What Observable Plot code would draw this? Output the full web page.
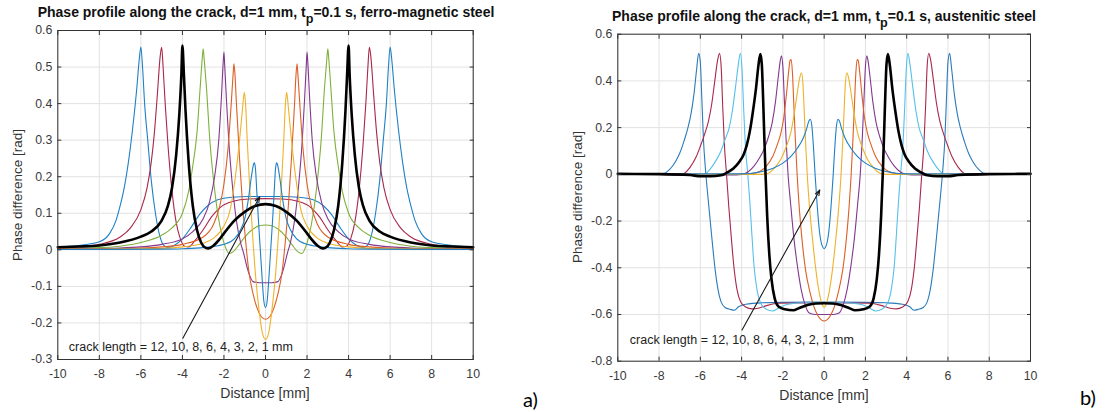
<!DOCTYPE html>
<html>
<head>
<meta charset="utf-8">
<script src="https://cdn.jsdelivr.net/npm/d3@7"></script>
<script src="https://cdn.jsdelivr.net/npm/@observablehq/plot@0.6"></script>
<style>
  body { margin: 0; background: #fff; }
  #wrap { position: relative; width: 1109px; height: 412px; font-family: "Liberation Sans", Arial, sans-serif; overflow: hidden; }
  #wrap svg { position: absolute; top: 0; }
  .title { position: absolute; font-weight: bold; font-size: 14px; line-height: 14px; color: #111; white-space: nowrap; transform: translateX(-50%); }
  .title sub { font-size: 0.9em; vertical-align: -0.45em; line-height: 0; }
  .xlab { position: absolute; font-size: 14px; line-height: 14px; color: #333; white-space: nowrap; transform: translateX(-50%); }
  .ylab { position: absolute; font-size: 13.5px; line-height: 14px; color: #333; white-space: nowrap; transform: translate(-50%, -50%) rotate(-90deg); }
  .tag { position: absolute; font-family: Lato, "Open Sans", sans-serif; font-size: 20px; line-height: 20px; color: #000; }
</style>
</head>
<body>
<div id="wrap">
  <div class="title" style="left:266px; top:5px;">Phase profile along the crack, d=1 mm, t<sub>p</sub>=0.1 s, ferro-magnetic steel</div>
  <div class="title" style="left:824px; top:8.5px;">Phase profile along the crack, d=1 mm, t<sub>p</sub>=0.1 s, austenitic steel</div>
  <div class="xlab" style="left:265px; top:386px;">Distance [mm]</div>
  <div class="xlab" style="left:824px; top:388px;">Distance [mm]</div>
  <div class="ylab" style="left:18px; top:195px;">Phase difference [rad]</div>
  <div class="ylab" style="left:577.5px; top:197px;">Phase difference [rad]</div>
  <div class="tag" style="left:523px; top:389px;">a)</div>
  <div class="tag" style="left:1080px; top:387px;">b)</div>
</div>
<script>
// ---------- shared axis ticks ----------
const xTicks = [-10, -8, -6, -4, -2, 0, 2, 4, 6, 8, 10];
const xLabels = ["-10", "-8", "-6", "-4", "-2", "0", "2", "4", "6", "8", "10"];
const yTicksA = [-0.3, -0.2, -0.1, 0, 0.1, 0.2, 0.3, 0.4, 0.5, 0.6];
const yLabelsA = ["-0.3", "-0.2", "-0.1", "0", "0.1", "0.2", "0.3", "0.4", "0.5", "0.6"];
const yTicksB = [-0.8, -0.6, -0.4, -0.2, 0, 0.2, 0.4, 0.6];
const yLabelsB = ["-0.8", "-0.6", "-0.4", "-0.2", "0", "0.2", "0.4", "0.6"];
const crackLengths = [12, 10, 8, 6, 4, 3, 2, 1];
const noteText = "crack length = 12, 10, 8, 6, 4, 3, 2, 1 mm";

// ---------- panel a) ferro-magnetic steel: [distance mm, phase rad] ----------
const a12 = [[-10,0.008],[-9,0.012],[-8,0.022],[-7.5,0.045],[-7.2,0.08],[-7,0.12],[-6.8,0.17],[-6.6,0.24],[-6.4,0.33],[-6.2,0.44],[-6.08,0.52],[-6,0.555],[-5.92,0.5],[-5.82,0.4],[-5.67,0.3],[-5.5,0.19],[-5.3,0.1],[-5.1,0.04],[-4.9,0.012],[-4.7,0.006],[-4.4,0.012],[-4,0.03],[-3.6,0.06],[-3.2,0.095],[-2.8,0.12],[-2.3,0.137],[-1.6,0.144],[-0.8,0.146],[0,0.146],
  [0.8,0.146],[1.6,0.144],[2.3,0.137],[2.8,0.12],[3.2,0.095],[3.6,0.06],[4,0.03],[4.4,0.012],[4.7,0.006],[4.9,0.012],[5.1,0.04],[5.3,0.1],[5.5,0.19],[5.67,0.3],[5.82,0.4],[5.92,0.5],[6,0.555],[6.08,0.52],[6.2,0.44],[6.4,0.33],[6.6,0.24],[6.8,0.17],[7,0.12],[7.2,0.08],[7.5,0.045],[8,0.022],[9,0.012],[10,0.008]];
const a10 = [[-10,0.005],[-9,0.008],[-8,0.015],[-7,0.035],[-6.5,0.06],[-6,0.11],[-5.7,0.17],[-5.5,0.24],[-5.35,0.32],[-5.2,0.43],[-5.07,0.53],[-5,0.554],[-4.93,0.5],[-4.83,0.4],[-4.7,0.29],[-4.5,0.16],[-4.3,0.075],[-4.1,0.03],[-3.9,0.01],[-3.7,0.008],[-3.4,0.025],[-3,0.055],[-2.6,0.09],[-2.2,0.115],[-1.6,0.132],[-0.8,0.139],[0,0.14],
  [0.8,0.139],[1.6,0.132],[2.2,0.115],[2.6,0.09],[3,0.055],[3.4,0.025],[3.7,0.008],[3.9,0.01],[4.1,0.03],[4.3,0.075],[4.5,0.16],[4.7,0.29],[4.83,0.4],[4.93,0.5],[5,0.554],[5.07,0.53],[5.2,0.43],[5.35,0.32],[5.5,0.24],[5.7,0.17],[6,0.11],[6.5,0.06],[7,0.035],[8,0.015],[9,0.008],[10,0.005]];
const a8 = [[-10,0.007],[-9,0.009],[-8,0.012],[-7,0.02],[-6,0.036],[-5.5,0.05],[-5,0.08],[-4.7,0.12],[-4.5,0.17],[-4.3,0.26],[-4.15,0.37],[-4.05,0.48],[-4,0.559],[-3.93,0.48],[-3.85,0.38],[-3.7,0.24],[-3.5,0.12],[-3.3,0.055],[-3.1,0.02],[-2.9,0.006],[-2.75,0.004],[-2.5,0.012],[-2.2,0.03],[-2,0.045],[-1.5,0.08],[-1,0.104],[-0.5,0.12],[0,0.125],
  [0.5,0.12],[1,0.104],[1.5,0.08],[2,0.045],[2.2,0.03],[2.5,0.012],[2.75,0.004],[2.9,0.006],[3.1,0.02],[3.3,0.055],[3.5,0.12],[3.7,0.24],[3.85,0.38],[3.93,0.48],[4,0.559],[4.05,0.48],[4.15,0.37],[4.3,0.26],[4.5,0.17],[4.7,0.12],[5,0.08],[5.5,0.05],[6,0.036],[7,0.02],[8,0.012],[9,0.009],[10,0.007]];
const a6 = [[-10,0.003],[-8,0.006],[-7,0.01],[-6,0.02],[-5,0.04],[-4.5,0.06],[-4,0.1],[-3.7,0.16],[-3.5,0.23],[-3.3,0.32],[-3.15,0.44],[-3.05,0.52],[-3,0.55],[-2.95,0.52],[-2.85,0.45],[-2.68,0.3],[-2.5,0.19],[-2.3,0.1],[-2.1,0.04],[-1.9,0.003],[-1.75,-0.01],[-1.55,-0.005],[-1.3,0.012],[-1,0.035],[-0.6,0.057],[-0.3,0.066],[0,0.068],
  [0.3,0.066],[0.6,0.057],[1,0.035],[1.3,0.012],[1.55,-0.005],[1.75,-0.01],[1.9,0.003],[2.1,0.04],[2.3,0.1],[2.5,0.19],[2.68,0.3],[2.85,0.45],[2.95,0.52],[3,0.55],[3.05,0.52],[3.15,0.44],[3.3,0.32],[3.5,0.23],[3.7,0.16],[4,0.1],[4.5,0.06],[5,0.04],[6,0.02],[7,0.01],[8,0.006],[10,0.003]];
const a4 = [[-10,0.002],[-7,0.005],[-6,0.008],[-5,0.015],[-4,0.03],[-3.5,0.05],[-3,0.085],[-2.7,0.13],[-2.45,0.2],[-2.25,0.3],[-2.12,0.42],[-2.04,0.51],[-2,0.541],[-1.96,0.5],[-1.88,0.41],[-1.77,0.3],[-1.6,0.18],[-1.4,0.08],[-1.2,0.02],[-1.05,-0.01],[-0.9,-0.045],[-0.75,-0.072],[-0.6,-0.087],[-0.3,-0.09],[0,-0.09],
  [0.3,-0.09],[0.6,-0.087],[0.75,-0.072],[0.9,-0.045],[1.05,-0.01],[1.2,0.02],[1.4,0.08],[1.6,0.18],[1.77,0.3],[1.88,0.41],[1.96,0.5],[2,0.541],[2.04,0.51],[2.12,0.42],[2.25,0.3],[2.45,0.2],[2.7,0.13],[3,0.085],[3.5,0.05],[4,0.03],[5,0.015],[6,0.008],[7,0.005],[10,0.002]];
const a3 = [[-10,0.002],[-6,0.005],[-5,0.008],[-4,0.015],[-3,0.035],[-2.5,0.07],[-2.2,0.12],[-2,0.18],[-1.8,0.28],[-1.65,0.4],[-1.56,0.48],[-1.52,0.509],[-1.47,0.48],[-1.4,0.4],[-1.25,0.25],[-1.1,0.12],[-0.95,0.02],[-0.8,-0.06],[-0.6,-0.12],[-0.4,-0.16],[-0.2,-0.183],[0,-0.19],
  [0.2,-0.183],[0.4,-0.16],[0.6,-0.12],[0.8,-0.06],[0.95,0.02],[1.1,0.12],[1.25,0.25],[1.4,0.4],[1.47,0.48],[1.52,0.509],[1.56,0.48],[1.65,0.4],[1.8,0.28],[2,0.18],[2.2,0.12],[2.5,0.07],[3,0.035],[4,0.015],[5,0.008],[6,0.005],[10,0.002]];
const a2 = [[-10,0.001],[-5,0.004],[-4,0.008],[-3,0.018],[-2.5,0.032],[-2,0.065],[-1.7,0.11],[-1.45,0.2],[-1.25,0.3],[-1.1,0.39],[-1.02,0.431],[-0.96,0.4],[-0.88,0.3],[-0.76,0.17],[-0.62,0.04],[-0.48,-0.07],[-0.32,-0.16],[-0.16,-0.225],[0,-0.245],
  [0.16,-0.225],[0.32,-0.16],[0.48,-0.07],[0.62,0.04],[0.76,0.17],[0.88,0.3],[0.96,0.4],[1.02,0.431],[1.1,0.39],[1.25,0.3],[1.45,0.2],[1.7,0.11],[2,0.065],[2.5,0.032],[3,0.018],[4,0.008],[5,0.004],[10,0.001]];
const a1 = [[-10,0.001],[-5,0.002],[-4,0.003],[-3,0.006],[-2,0.015],[-1.5,0.03],[-1.2,0.055],[-1,0.085],[-0.82,0.14],[-0.68,0.2],[-0.57,0.235],[-0.53,0.238],[-0.48,0.22],[-0.42,0.16],[-0.34,0.08],[-0.25,0],[-0.16,-0.08],[-0.08,-0.14],[0,-0.158],
  [0.08,-0.14],[0.16,-0.08],[0.25,0],[0.34,0.08],[0.42,0.16],[0.48,0.22],[0.53,0.238],[0.57,0.235],[0.68,0.2],[0.82,0.14],[1,0.085],[1.2,0.055],[1.5,0.03],[2,0.015],[3,0.006],[4,0.003],[5,0.002],[10,0.001]];

// ---------- panel b) austenitic steel ----------
const b12 = [[-10,0.003],[-9,0.003],[-8,0.002],[-7.75,0.004],[-7.5,0.02],[-7.2,0.055],[-7,0.09],[-6.8,0.14],[-6.6,0.2],[-6.45,0.26],[-6.3,0.35],[-6.18,0.45],[-6.08,0.518],[-6,0.48],[-5.93,0.33],[-5.85,0.15],[-5.75,0.02],[-5.65,-0.08],[-5.52,-0.2],[-5.4,-0.31],[-5.28,-0.41],[-5.15,-0.49],[-5,-0.545],[-4.8,-0.57],[-4.55,-0.578],[-4.35,-0.582],[-4.15,-0.567],[-3.8,-0.556],[-3,-0.55],[-2,-0.548],[0,-0.547],
  [2,-0.548],[3,-0.55],[3.8,-0.556],[4.15,-0.567],[4.35,-0.582],[4.55,-0.578],[4.8,-0.57],[5,-0.545],[5.15,-0.49],[5.28,-0.41],[5.4,-0.31],[5.52,-0.2],[5.65,-0.08],[5.75,0.02],[5.85,0.15],[5.93,0.33],[6,0.48],[6.08,0.518],[6.18,0.45],[6.3,0.35],[6.45,0.26],[6.6,0.2],[6.8,0.14],[7,0.09],[7.2,0.055],[7.5,0.02],[7.75,0.004],[8,0.002],[9,0.003],[10,0.003]];
const b10 = [[-10,0.001],[-8,0],[-7,-0.003],[-6.8,0.003],[-6.5,0.03],[-6.2,0.075],[-6,0.12],[-5.8,0.17],[-5.6,0.23],[-5.45,0.3],[-5.3,0.4],[-5.16,0.49],[-5.07,0.518],[-4.99,0.46],[-4.92,0.3],[-4.83,0.12],[-4.73,0],[-4.62,-0.14],[-4.5,-0.27],[-4.38,-0.39],[-4.23,-0.49],[-4.05,-0.545],[-3.8,-0.568],[-3.5,-0.576],[-3.2,-0.573],[-2.8,-0.562],[-2.2,-0.552],[0,-0.55],
  [2.2,-0.552],[2.8,-0.562],[3.2,-0.573],[3.5,-0.576],[3.8,-0.568],[4.05,-0.545],[4.23,-0.49],[4.38,-0.39],[4.5,-0.27],[4.62,-0.14],[4.73,0],[4.83,0.12],[4.92,0.3],[4.99,0.46],[5.07,0.518],[5.16,0.49],[5.3,0.4],[5.45,0.3],[5.6,0.23],[5.8,0.17],[6,0.12],[6.2,0.075],[6.5,0.03],[6.8,0.003],[7,-0.003],[8,0],[10,0.001]];
const b8 = [[-10,0.002],[-7,0],[-6.2,-0.005],[-5.8,0],[-5.6,0.015],[-5.3,0.05],[-5,0.1],[-4.8,0.15],[-4.6,0.2],[-4.45,0.27],[-4.3,0.37],[-4.16,0.47],[-4.06,0.518],[-3.98,0.45],[-3.9,0.28],[-3.8,0.1],[-3.7,0],[-3.6,-0.12],[-3.5,-0.26],[-3.4,-0.39],[-3.26,-0.49],[-3.08,-0.55],[-2.8,-0.578],[-2.5,-0.585],[-2.2,-0.572],[-1.8,-0.557],[-1,-0.55],[0,-0.549],
  [1,-0.55],[1.8,-0.557],[2.2,-0.572],[2.5,-0.585],[2.8,-0.578],[3.08,-0.55],[3.26,-0.49],[3.4,-0.39],[3.5,-0.26],[3.6,-0.12],[3.7,0],[3.8,0.1],[3.9,0.28],[3.98,0.45],[4.06,0.518],[4.16,0.47],[4.3,0.37],[4.45,0.27],[4.6,0.2],[4.8,0.15],[5,0.1],[5.3,0.05],[5.6,0.015],[5.8,0],[6.2,-0.005],[7,0],[10,0.002]];
const b6 = [[-10,0.002],[-8,0.001],[-6.5,-0.003],[-6,-0.008],[-5.5,-0.008],[-5,-0.004],[-4.7,0.008],[-4.4,0.025],[-4.1,0.055],[-3.9,0.085],[-3.75,0.125],[-3.6,0.185],[-3.45,0.27],[-3.3,0.37],[-3.18,0.47],[-3.09,0.515],[-3.02,0.47],[-2.96,0.33],[-2.9,0.16],[-2.84,0],[-2.76,-0.18],[-2.66,-0.34],[-2.55,-0.45],[-2.4,-0.53],[-2.2,-0.567],[-1.9,-0.578],[-1.5,-0.582],[-1.2,-0.572],[-0.8,-0.559],[-0.4,-0.553],[0,-0.552],
  [0.4,-0.553],[0.8,-0.559],[1.2,-0.572],[1.5,-0.582],[1.9,-0.578],[2.2,-0.567],[2.4,-0.53],[2.55,-0.45],[2.66,-0.34],[2.76,-0.18],[2.84,0],[2.9,0.16],[2.96,0.33],[3.02,0.47],[3.09,0.515],[3.18,0.47],[3.3,0.37],[3.45,0.27],[3.6,0.185],[3.75,0.125],[3.9,0.085],[4.1,0.055],[4.4,0.025],[4.7,0.008],[5,-0.004],[5.5,-0.008],[6,-0.008],[6.5,-0.003],[8,0.001],[10,0.002]];
const b4 = [[-10,0.001],[-6,0],[-4.5,-0.003],[-4,0],[-3.7,0.01],[-3.4,0.035],[-3.1,0.075],[-2.9,0.11],[-2.7,0.16],[-2.52,0.22],[-2.36,0.31],[-2.22,0.42],[-2.12,0.49],[-2.07,0.507],[-2,0.46],[-1.92,0.3],[-1.84,0.14],[-1.75,0],[-1.62,-0.13],[-1.47,-0.27],[-1.3,-0.39],[-1.12,-0.49],[-0.92,-0.56],[-0.72,-0.594],[-0.45,-0.6],[0,-0.6],
  [0.45,-0.6],[0.72,-0.594],[0.92,-0.56],[1.12,-0.49],[1.3,-0.39],[1.47,-0.27],[1.62,-0.13],[1.75,0],[1.84,0.14],[1.92,0.3],[2,0.46],[2.07,0.507],[2.12,0.49],[2.22,0.42],[2.36,0.31],[2.52,0.22],[2.7,0.16],[2.9,0.11],[3.1,0.075],[3.4,0.035],[3.7,0.01],[4,0],[4.5,-0.003],[6,0],[10,0.001]];
const b3 = [[-10,0.001],[-4,0],[-3.5,0.003],[-3.1,0.013],[-2.8,0.035],[-2.5,0.075],[-2.3,0.12],[-2.1,0.175],[-1.96,0.24],[-1.83,0.34],[-1.72,0.44],[-1.65,0.488],[-1.6,0.492],[-1.54,0.44],[-1.47,0.3],[-1.39,0.14],[-1.31,0],[-1.2,-0.15],[-1.05,-0.3],[-0.9,-0.41],[-0.7,-0.5],[-0.5,-0.565],[-0.3,-0.605],[-0.12,-0.624],[0,-0.628],
  [0.12,-0.624],[0.3,-0.605],[0.5,-0.565],[0.7,-0.5],[0.9,-0.41],[1.05,-0.3],[1.2,-0.15],[1.31,0],[1.39,0.14],[1.47,0.3],[1.54,0.44],[1.6,0.492],[1.65,0.488],[1.72,0.44],[1.83,0.34],[1.96,0.24],[2.1,0.175],[2.3,0.12],[2.5,0.075],[2.8,0.035],[3.1,0.013],[3.5,0.003],[4,0],[10,0.001]];
const b2 = [[-10,0.001],[-3,0],[-2.7,0.005],[-2.4,0.028],[-2.1,0.065],[-1.85,0.115],[-1.6,0.185],[-1.45,0.26],[-1.3,0.35],[-1.18,0.415],[-1.1,0.435],[-1.03,0.39],[-0.96,0.26],[-0.89,0.12],[-0.82,0],[-0.7,-0.15],[-0.55,-0.29],[-0.4,-0.41],[-0.25,-0.5],[-0.1,-0.556],[0,-0.57],
  [0.1,-0.556],[0.25,-0.5],[0.4,-0.41],[0.55,-0.29],[0.7,-0.15],[0.82,0],[0.89,0.12],[0.96,0.26],[1.03,0.39],[1.1,0.435],[1.18,0.415],[1.3,0.35],[1.45,0.26],[1.6,0.185],[1.85,0.115],[2.1,0.065],[2.4,0.028],[2.7,0.005],[3,0],[10,0.001]];
const b1 = [[-10,0.001],[-4,0.002],[-3.5,0.005],[-3,0.012],[-2.5,0.025],[-2,0.048],[-1.6,0.078],[-1.3,0.112],[-1,0.158],[-0.85,0.195],[-0.74,0.228],[-0.67,0.236],[-0.6,0.21],[-0.52,0.12],[-0.44,0],[-0.34,-0.13],[-0.22,-0.25],[-0.1,-0.305],[0,-0.318],
  [0.1,-0.305],[0.22,-0.25],[0.34,-0.13],[0.44,0],[0.52,0.12],[0.6,0.21],[0.67,0.236],[0.74,0.228],[0.85,0.195],[1,0.158],[1.3,0.112],[1.6,0.078],[2,0.048],[2.5,0.025],[3,0.012],[3.5,0.005],[4,0.002],[10,0.001]];

// ---------- annotations ----------
const arrowA = {x1: -3.98, y1: -0.242, x2: -0.28, y2: 0.145};
const noteA = {x: -9.47, y: -0.266};
const arrowB = {x1: -3.98, y1: -0.666, x2: -0.21, y2: -0.067};
const noteB = {x: -9.42, y: -0.71};

// ---------- colours (MATLAB default order) ----------
const cBlue = "#1f80c6", cRed = "#a8284a", cGreen = "#7fb03c", cPurple = "#83388f",
      cOrange = "#dd5f26", cYellow = "#edb22a", cCyan = "#55c0ea", cBlack = "#000000";

const seriesA = [
  {len: 12, data: a12, color: cBlue,   w: 1.1},
  {len: 10, data: a10, color: cRed,    w: 1.1},
  {len: 6,  data: a6,  color: cGreen,  w: 1.1},
  {len: 4,  data: a4,  color: cPurple, w: 1.1},
  {len: 3,  data: a3,  color: cOrange, w: 1.1},
  {len: 2,  data: a2,  color: cYellow, w: 1.1},
  {len: 1,  data: a1,  color: cBlue,   w: 1.1},
  {len: 8,  data: a8,  color: cBlack,  w: 2.6}
];
const seriesB = [
  {len: 12, data: b12, color: "#2b7bbb", w: 1.1},
  {len: 10, data: b10, color: cRed,    w: 1.1},
  {len: 8,  data: b8,  color: cCyan,   w: 1.1},
  {len: 4,  data: b4,  color: cPurple, w: 1.1},
  {len: 3,  data: b3,  color: cOrange, w: 1.1},
  {len: 2,  data: b2,  color: cYellow, w: 1.1},
  {len: 1,  data: b1,  color: cBlue,   w: 1.1},
  {len: 6,  data: b6,  color: cBlack,  w: 2.6}
];

function panel({series, yDomain, yTicks, yLabels, arrow, note, marginTop, marginBottom, marginRight}) {
  const fx = d => xLabels[xTicks.indexOf(d)];
  const fy = d => yLabels[yTicks.indexOf(d)];
  const axisColor = "#333";
  return Plot.plot({
    width: 500,
    height: 412,
    marginLeft: 57.3,
    marginRight,
    marginTop,
    marginBottom,
    style: {fontFamily: "'Liberation Sans', Arial, sans-serif", fontSize: "12.3px", color: "#3a3a3a", background: "transparent", overflow: "visible"},
    x: {domain: [-10, 10]},
    y: {domain: yDomain},
    marks: [
      Plot.gridX(xTicks, {stroke: "#e2e2e2", strokeOpacity: 1}),
      Plot.gridY(yTicks, {stroke: "#e2e2e2", strokeOpacity: 1}),
      ...series.map(s => Plot.line(s.data, {x: d => d[0], y: d => d[1], stroke: s.color, strokeWidth: s.w, curve: "monotone-x"})),
      Plot.arrow([arrow], {x1: "x1", y1: "y1", x2: "x2", y2: "y2", stroke: "#1a1a1a", strokeWidth: 1.1, headLength: 8, headAngle: 40}),
      Plot.text([note], {x: "x", y: "y", text: () => noteText, textAnchor: "start", fontSize: 12.5, fill: "#222"}),
      Plot.frame({stroke: axisColor}),
      Plot.axisX(xTicks, {anchor: "bottom", tickSize: 0, tickPadding: 10, tickFormat: fx, label: null, fill: "#3a3a3a"}),
      Plot.axisX(xTicks, {anchor: "bottom", tickSize: -4, fill: "none", stroke: axisColor, label: null}),
      Plot.axisX(xTicks, {anchor: "top", tickSize: -4, fill: "none", stroke: axisColor, label: null}),
      Plot.axisY(yTicks, {anchor: "left", tickSize: 0, tickPadding: 5.5, tickFormat: fy, label: null, fill: "#3a3a3a"}),
      Plot.axisY(yTicks, {anchor: "left", tickSize: -4, fill: "none", stroke: axisColor, label: null}),
      Plot.axisY(yTicks, {anchor: "right", tickSize: -4, fill: "none", stroke: axisColor, label: null})
    ]
  });
}

const wrap = document.getElementById("wrap");
const svgA = panel({series: seriesA, yDomain: [-0.3, 0.6], yTicks: yTicksA, yLabels: yLabelsA, arrow: arrowA, note: noteA, marginTop: 30, marginBottom: 53, marginRight: 27.3});
svgA.style.left = "0px";
wrap.appendChild(svgA);
const svgB = panel({series: seriesB, yDomain: [-0.8, 0.6], yTicks: yTicksB, yLabels: yLabelsB, arrow: arrowB, note: noteB, marginTop: 33.7, marginBottom: 51.3, marginRight: 30});
svgB.style.left = "560px";
wrap.appendChild(svgB);
</script>
</body>
</html>
